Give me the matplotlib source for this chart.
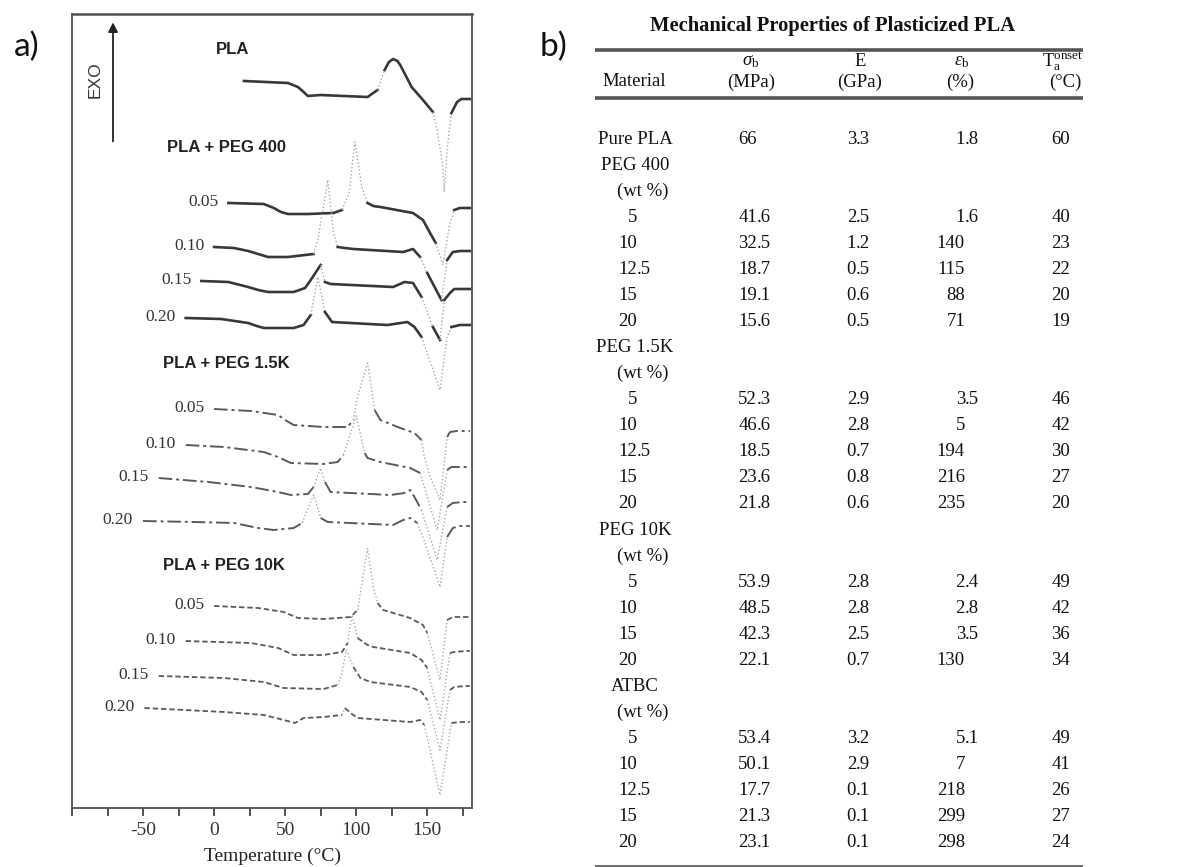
import numpy as np
import matplotlib
matplotlib.use("Agg")
import matplotlib.pyplot as plt

# --- DSC traces (temperature in degC, heat flow in arbitrary stacked units) ---
pla_T = [21, 52, 59, 63, 66, 75, 108, 115, 120, 123, 126, 129, 131, 139, 147, 154, 157, 161, 162, 164, 167, 171, 174, 180]
pla_h = [727, 725, 721, 716, 712, 713, 711, 718, 738, 746, 749, 747, 743, 721, 708, 696, 678, 641, 616, 658, 695, 706, 709, 709]

p400_05_T = [10, 35, 42, 47, 52, 66, 84, 90, 95, 99, 104, 108, 112, 117, 140, 147, 152, 156, 161, 166, 169, 173, 180]
p400_05_h = [605, 604, 600, 596, 594, 594, 595, 598, 615, 666, 621, 605, 602, 601, 595, 588, 575, 565, 543, 585, 598, 600, 600]
p400_10_T = [0, 14, 24, 31, 38, 52, 70, 73, 80, 84, 87, 92, 98, 133, 140, 145, 150, 160, 164, 168, 173, 180]
p400_10_h = [561, 560, 557, 554, 551, 551, 554, 568, 628, 575, 561, 560, 559, 556, 559, 551, 535, 508, 548, 556, 557, 557]
p400_15_T = [-9, 10, 24, 31, 38, 56, 64, 68, 75, 78, 82, 126, 134, 140, 146, 154, 159, 162, 166, 169, 180]
p400_15_h = [527, 526, 521, 518, 516, 516, 520, 528, 543, 526, 524, 521, 526, 525, 511, 481, 468, 508, 515, 519, 519]
p400_20_T = [-20, 5, 24, 30, 35, 56, 63, 68, 73, 78, 83, 122, 136, 141, 146, 159, 164, 167, 173, 180]
p400_20_h = [490, 489, 485, 482, 480, 480, 483, 493, 531, 496, 486, 483, 486, 481, 471, 418, 471, 481, 483, 483]

p1k5_05_T = [0, 26, 45, 50, 56, 77, 94, 98, 101, 108, 111, 113, 117, 131, 141, 146, 148, 152, 159, 164, 166, 171, 180]
p1k5_05_h = [399, 397, 393, 388, 383, 381, 381, 388, 411, 445, 418, 398, 388, 380, 375, 368, 351, 331, 308, 371, 376, 377, 377]
p1k5_10_T = [-20, 7, 35, 45, 54, 77, 87, 91, 100, 106, 108, 117, 138, 145, 148, 157, 164, 167, 173, 180]
p1k5_10_h = [363, 361, 356, 351, 345, 344, 346, 353, 392, 355, 350, 346, 340, 335, 321, 278, 338, 341, 341, 341]
p1k5_15_T = [-39, -4, 26, 45, 54, 66, 70, 75, 78, 82, 124, 134, 138, 141, 146, 157, 164, 168, 175, 180]
p1k5_15_h = [330, 326, 321, 316, 313, 314, 321, 340, 326, 316, 313, 315, 318, 311, 298, 248, 301, 305, 306, 306]
p1k5_20_T = [-50, -14, 14, 31, 42, 56, 62, 70, 75, 80, 126, 133, 138, 143, 147, 159, 164, 168, 173, 180]
p1k5_20_h = [287, 286, 285, 280, 278, 280, 285, 313, 290, 286, 283, 288, 290, 285, 271, 221, 271, 280, 282, 282]

p10k_05_T = [0, 31, 49, 59, 77, 96, 101, 108, 112, 115, 119, 138, 147, 150, 159, 164, 168, 177, 180]
p10k_05_h = [202, 200, 196, 190, 189, 191, 198, 260, 221, 205, 198, 190, 183, 175, 128, 188, 191, 191, 191]
p10k_10_T = [-20, 26, 45, 56, 77, 90, 94, 97, 101, 108, 112, 138, 146, 150, 159, 166, 169, 177, 180]
p10k_10_h = [167, 165, 160, 153, 153, 156, 165, 193, 170, 163, 161, 155, 148, 140, 88, 155, 156, 157, 157]
p10k_15_T = [-39, 7, 35, 49, 77, 87, 90, 93, 98, 103, 110, 138, 146, 150, 159, 166, 169, 177, 180]
p10k_15_h = [132, 130, 126, 120, 119, 123, 135, 158, 141, 130, 126, 121, 116, 108, 58, 118, 121, 122, 122]
p10k_20_T = [-49, 7, 35, 49, 57, 63, 77, 90, 92, 96, 101, 138, 145, 148, 159, 167, 173, 180]
p10k_20_h = [100, 96, 93, 88, 85, 90, 91, 93, 100, 95, 90, 86, 88, 83, 13, 85, 86, 86]

conc_labels = ["0.05", "0.10", "0.15", "0.20"]

# --- table data ---
materials = ["Pure PLA", "PEG 400", "(wt %)", "5", "10", "12.5", "15", "20",
             "PEG 1.5K", "(wt %)", "5", "10", "12.5", "15", "20",
             "PEG 10K", "(wt %)", "5", "10", "15", "20",
             "ATBC", "(wt %)", "5", "10", "12.5", "15", "20"]
sigma_b = ["66", "", "", "41.6", "32.5", "18.7", "19.1", "15.6", "", "", "52.3", "46.6", "18.5", "23.6", "21.8",
           "", "", "53.9", "48.5", "42.3", "22.1", "", "", "53.4", "50.1", "17.7", "21.3", "23.1"]
modulus_E = ["3.3", "", "", "2.5", "1.2", "0.5", "0.6", "0.5", "", "", "2.9", "2.8", "0.7", "0.8", "0.6",
             "", "", "2.8", "2.8", "2.5", "0.7", "", "", "3.2", "2.9", "0.1", "0.1", "0.1"]
eps_b = ["1.8", "", "", "1.6", "140", "115", "88", "71", "", "", "3.5", "5", "194", "216", "235",
         "", "", "2.4", "2.8", "3.5", "130", "", "", "5.1", "7", "218", "299", "298"]
t_onset = ["60", "", "", "40", "23", "22", "20", "19", "", "", "46", "42", "30", "27", "20",
           "", "", "49", "42", "36", "34", "", "", "49", "41", "26", "27", "24"]

plt.rcParams["font.family"] = ["Liberation Serif", "DejaVu Serif"]
plt.rcParams["axes.unicode_minus"] = False
plt.rcParams["mathtext.fontset"] = "custom"
plt.rcParams["mathtext.rm"] = "Liberation Serif"
plt.rcParams["mathtext.it"] = "Liberation Serif:italic"

W, H = 1186, 867
fig = plt.figure(figsize=(W / 100, H / 100), dpi=100)
ax = fig.add_axes([72 / W, 1 - 808 / H, 400 / W, 794 / H])


def draw_trace(T, h, **style):
    """Steep parts (peaks, melting dips) come out faint and dotted like the scan."""
    T = np.asarray(T, float)
    h = np.asarray(h, float)
    steep = np.abs(np.diff(h) / np.diff(T)) > 3.0
    start = 0
    for i in range(1, len(steep) + 1):
        if i == len(steep) or steep[i] != steep[start]:
            seg = slice(start, i + 1)
            if steep[start]:
                ax.plot(T[seg], h[seg], color="#a8a8a8", lw=1.0, ls=(0, (1, 1.6)))
            else:
                ax.plot(T[seg], h[seg], solid_joinstyle="round", **style)
            start = i


solid = dict(color="#383838", lw=1.9)
dashdot = dict(color="#5a5a5a", lw=1.4, ls=(0, (7, 2, 1.5, 2)))
dashed = dict(color="#5a5a5a", lw=1.3, ls=(0, (3, 1.6)))

draw_trace(pla_T, pla_h, **solid)

groups = [
    ([(p400_05_T, p400_05_h), (p400_10_T, p400_10_h), (p400_15_T, p400_15_h), (p400_20_T, p400_20_h)], solid),
    ([(p1k5_05_T, p1k5_05_h), (p1k5_10_T, p1k5_10_h), (p1k5_15_T, p1k5_15_h), (p1k5_20_T, p1k5_20_h)], dashdot),
    ([(p10k_05_T, p10k_05_h), (p10k_10_T, p10k_10_h), (p10k_15_T, p10k_15_h), (p10k_20_T, p10k_20_h)], dashed),
]
for traces, style in groups:
    for (T, h), lab in zip(traces, conc_labels):
        draw_trace(T, h, **style)
        ax.text(T[0] - 7, h[0] + 1, lab, ha="right", va="center", fontsize=12.5, color="#333333")

bold_sans = dict(family="Liberation Sans", fontweight="bold", fontsize=12, color="#222222", va="center")
ax.text(1, 758, "PLA", ha="left", **bold_sans)
ax.text(-33, 661, "PLA + PEG 400", ha="left", **bold_sans)
ax.text(-36, 445, "PLA + PEG 1.5K", ha="left", **bold_sans)
ax.text(-36, 243, "PLA + PEG 10K", ha="left", **bold_sans)

# EXO arrow
ax.annotate("", xy=(0.1025, 0.993), xytext=(0.1025, 0.836), xycoords="axes fraction",
            arrowprops=dict(arrowstyle="-|>", color="#222222", lw=1.3, mutation_scale=14))
ax.text(0.0575, 0.917, "EXO", transform=ax.transAxes, rotation=90, ha="center", va="center",
        family="Liberation Sans", fontsize=12.5, color="#333333")

ax.set_xlim(-100, 181.5)
ax.set_ylim(0, 794)
ax.set_xticks([-50, 0, 50, 100, 150])
ax.set_xticks([-100, -75, -25, 25, 75, 125, 175], minor=True)
ax.set_yticks([])
ax.tick_params(axis="x", which="both", direction="out", length=6, width=1.2, labelsize=14,
               pad=4, colors="#333333")
for sp in ax.spines.values():
    sp.set_color("#505050")
    sp.set_linewidth(1.3)
ax.spines["top"].set_linewidth(1.8)
ax.set_xlabel("Temperature (°C)", fontsize=14, labelpad=6, color="#222222")

# --- table panel, drawn in pixel space ---
tab = fig.add_axes([0, 0, 1, 1])
tab.set_xlim(0, W)
tab.set_ylim(H, 0)
tab.axis("off")

fs = 13.5
tab.text(832, 26, "Mechanical Properties of Plasticized PLA", ha="center", va="center",
         fontsize=14.8, fontweight="bold", color="#111111")
for y, lw in [(50, 2.6), (98, 2.6), (866, 1.2)]:
    tab.plot([595, 1083], [y, y], color="#555555", lw=lw, solid_capstyle="butt")

hdr = dict(fontsize=fs, va="center", color="#111111")
tab.text(602, 82, "Material", ha="left", **hdr)
tab.text(751, 62, r"$\sigma_\mathrm{b}$", ha="center", **hdr)
tab.text(751, 82, "(MPa)", ha="center", **hdr)
tab.text(860, 62, "E", ha="center", **hdr)
tab.text(860, 82, "(GPa)", ha="center", **hdr)
tab.text(962, 62, r"$\varepsilon_\mathrm{b}$", ha="center", **hdr)
tab.text(960, 82, "(%)", ha="center", **hdr)
tab.text(1083, 62, r"T$_\mathrm{a}^\mathrm{onset}$", ha="right", **hdr)
tab.text(1081, 82, "(°C)", ha="right", **hdr)


def dec_text(x, y, s):
    """Decimal-aligned cell: integer part ends at x."""
    if not s:
        return
    whole, dot, frac = s.partition(".")
    tab.text(x, y, whole, ha="right", va="center", fontsize=fs, color="#111111")
    if dot:
        tab.text(x, y, dot + frac, ha="left", va="center", fontsize=fs, color="#111111")


row_y0, row_dy = 139, 26.07
for i, name in enumerate(materials):
    y = row_y0 + i * row_dy
    if name[0].isdigit():
        dec_text(637, y, name)
    elif name.startswith("("):
        tab.text(617, y, name, ha="left", va="center", fontsize=fs, color="#111111")
    else:
        tab.text(635, y, name, ha="center", va="center", fontsize=fs, color="#111111")
    dec_text(757, y, sigma_b[i])
    dec_text(856, y, modulus_E[i])
    dec_text(965, y, eps_b[i])
    dec_text(1070, y, t_onset[i])

fig.text(27 / W, 1 - 47 / H, "a)", ha="center", va="center", family="Lato", fontsize=24, color="#111111")
fig.text(553 / W, 1 - 47 / H, "b)", ha="center", va="center", family="Lato", fontsize=24, color="#111111")

fig.savefig("out.png", dpi=100)
